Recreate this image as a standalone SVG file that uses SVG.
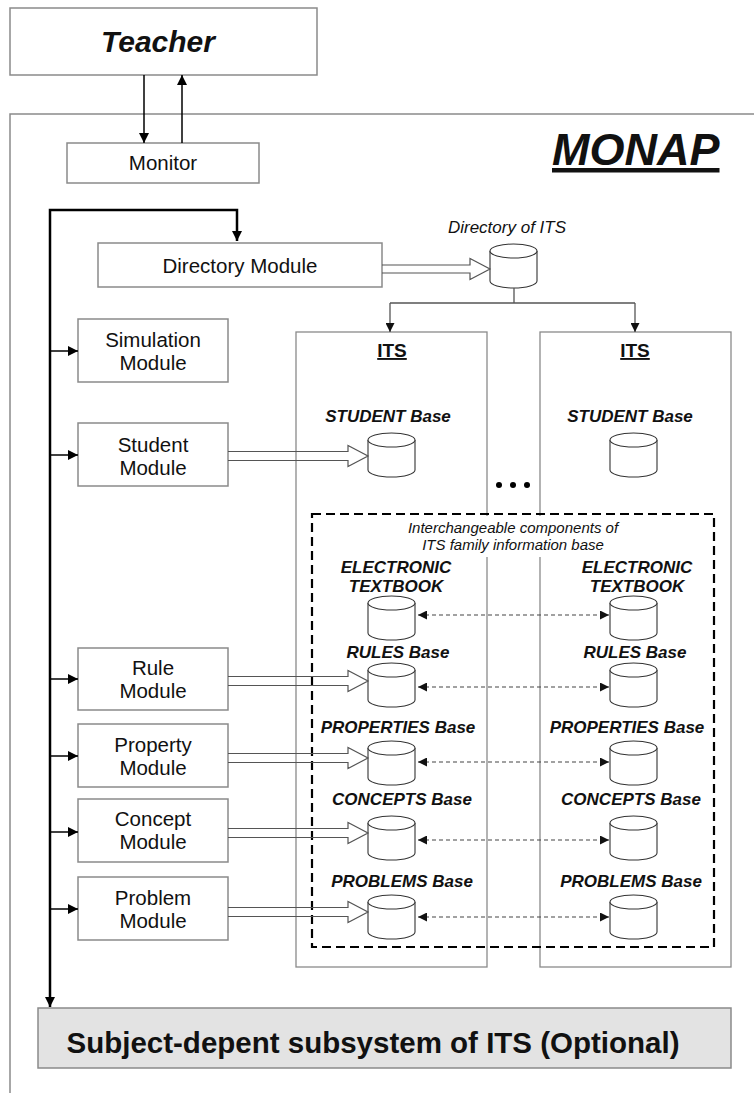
<svg xmlns="http://www.w3.org/2000/svg" width="754" height="1093" viewBox="0 0 754 1093">
<style>
text{font-family:"Liberation Sans",Arial,sans-serif;fill:#111}
.box{fill:#fff;stroke:#8a8a8a;stroke-width:1.5}
.mod{font-size:20.5px;text-anchor:middle}
.base{font-size:17px;font-weight:bold;font-style:italic;text-anchor:middle}
.cyl{fill:#fff;stroke:#333;stroke-width:1.1}
.hollow{fill:none;stroke:#555;stroke-width:1.2}
.bus{fill:none;stroke:#000;stroke-width:2.5}
.thin{fill:none;stroke:#000;stroke-width:1.5}
.dir{fill:none;stroke:#555;stroke-width:1.3}
.dash{fill:none;stroke:#444;stroke-width:1.2;stroke-dasharray:4 3}
</style>
<defs>
<marker id="ah" viewBox="0 0 10 10" refX="10" refY="5" markerWidth="11" markerHeight="10" markerUnits="userSpaceOnUse" orient="auto-start-reverse"><path d="M0,0 L10,5 L0,10 z" fill="#000"/></marker>
<marker id="ahs" viewBox="0 0 10 10" refX="10" refY="5" markerWidth="10" markerHeight="9" markerUnits="userSpaceOnUse" orient="auto-start-reverse"><path d="M0,0 L10,5 L0,10 z" fill="#111"/></marker>
<g id="cylshape"><path d="M0,7 a23.5,7 0 0,1 47,0 v30 a23.5,7 0 0,1 -47,0 z" class="cyl"/><path d="M0,7 a23.5,7 0 0,0 47,0" class="cyl"/></g>
</defs>

<!-- MONAP frame -->
<g id="monap">
<path d="M10,1093 V114 H754" fill="none" stroke="#8a8a8a" stroke-width="1.5"/>
<text x="552" y="165" font-size="45" font-weight="bold" font-style="italic" text-decoration="underline">MONAP</text>
</g>

<g id="teacher">
<rect x="10" y="8" width="307" height="67" class="box"/>
<text x="158" y="52" font-size="30" font-weight="bold" font-style="italic" text-anchor="middle">Teacher</text>
</g>

<g id="monitor">
<rect x="67" y="143" width="192" height="40" class="box"/>
<text x="163" y="170" class="mod">Monitor</text>
</g>

<g id="directory-module">
<rect x="98" y="243" width="284" height="44" class="box"/>
<text x="240" y="273" class="mod">Directory Module</text>
</g>

<g id="directory-of-its">
<text x="507" y="233" font-size="17" font-style="italic" text-anchor="middle">Directory of ITS</text>
<use href="#cylshape" x="490" y="244"/>
</g>

<g id="simulation-module">
<rect x="78" y="319" width="150" height="63" class="box"/>
<text x="153" y="347" class="mod">Simulation</text>
<text x="153" y="370" class="mod">Module</text>
</g>
<g id="student-module">
<rect x="78" y="423" width="150" height="63" class="box"/>
<text x="153" y="452" class="mod">Student</text>
<text x="153" y="475" class="mod">Module</text>
</g>
<g id="rule-module">
<rect x="78" y="648" width="150" height="62" class="box"/>
<text x="153" y="675" class="mod">Rule</text>
<text x="153" y="698" class="mod">Module</text>
</g>
<g id="property-module">
<rect x="78" y="724" width="150" height="63" class="box"/>
<text x="153" y="752" class="mod">Property</text>
<text x="153" y="775" class="mod">Module</text>
</g>
<g id="concept-module">
<rect x="78" y="799" width="150" height="63" class="box"/>
<text x="153" y="826" class="mod">Concept</text>
<text x="153" y="849" class="mod">Module</text>
</g>
<g id="problem-module">
<rect x="78" y="877" width="150" height="63" class="box"/>
<text x="153" y="905" class="mod">Problem</text>
<text x="153" y="928" class="mod">Module</text>
</g>

<g id="its-left">
<rect x="296" y="332" width="191" height="635" fill="none" stroke="#8a8a8a" stroke-width="1.3"/>
<text x="392" y="357" font-size="19" font-weight="bold" text-anchor="middle" text-decoration="underline">ITS</text>
</g>
<g id="its-right">
<rect x="540" y="332" width="191" height="635" fill="none" stroke="#8a8a8a" stroke-width="1.3"/>
<text x="635" y="357" font-size="19" font-weight="bold" text-anchor="middle" text-decoration="underline">ITS</text>
</g>

<g id="ellipsis">
<circle cx="499" cy="485" r="3" fill="#000"/>
<circle cx="513" cy="485" r="3" fill="#000"/>
<circle cx="527" cy="485" r="3" fill="#000"/>
</g>

<g id="interchangeable">
<rect x="312" y="514" width="402" height="433" fill="none" stroke="#000" stroke-width="2.2" stroke-dasharray="9 5"/>
<rect x="400" y="516" width="226" height="41" fill="#fff"/>
<text x="513" y="533" font-size="15" font-style="italic" text-anchor="middle">Interchangeable components of</text>
<text x="513" y="550" font-size="15" font-style="italic" text-anchor="middle">ITS family information base</text>
</g>

<g id="student-base-left">
<text x="388" y="422" class="base">STUDENT Base</text>
<use href="#cylshape" x="368" y="433"/>
</g>
<g id="student-base-right">
<text x="630" y="422" class="base">STUDENT Base</text>
<use href="#cylshape" x="610" y="433"/>
</g>
<g id="textbook-left">
<text x="396" y="573" class="base">ELECTRONIC</text>
<text x="396" y="592" class="base">TEXTBOOK</text>
<use href="#cylshape" x="368" y="596"/>
</g>
<g id="textbook-right">
<text x="637" y="573" class="base">ELECTRONIC</text>
<text x="637" y="592" class="base">TEXTBOOK</text>
<use href="#cylshape" x="610" y="596"/>
</g>
<g id="rules-left">
<text x="398" y="658" class="base">RULES Base</text>
<use href="#cylshape" x="368" y="663"/>
</g>
<g id="rules-right">
<text x="635" y="658" class="base">RULES Base</text>
<use href="#cylshape" x="610" y="663"/>
</g>
<g id="properties-left">
<text x="398" y="733" class="base">PROPERTIES Base</text>
<use href="#cylshape" x="368" y="741"/>
</g>
<g id="properties-right">
<text x="627" y="733" class="base">PROPERTIES Base</text>
<use href="#cylshape" x="610" y="741"/>
</g>
<g id="concepts-left">
<text x="402" y="805" class="base">CONCEPTS Base</text>
<use href="#cylshape" x="368" y="816"/>
</g>
<g id="concepts-right">
<text x="631" y="805" class="base">CONCEPTS Base</text>
<use href="#cylshape" x="610" y="816"/>
</g>
<g id="problems-left">
<text x="402" y="887" class="base">PROBLEMS Base</text>
<use href="#cylshape" x="368" y="895"/>
</g>
<g id="problems-right">
<text x="631" y="887" class="base">PROBLEMS Base</text>
<use href="#cylshape" x="610" y="895"/>
</g>

<g id="subject-subsystem">
<rect x="38" y="1008" width="693" height="60" fill="#e3e3e3" stroke="#8a8a8a" stroke-width="1.5"/>
<text x="373" y="1053" font-size="29.5" font-weight="bold" text-anchor="middle">Subject-depent subsystem of ITS (Optional)</text>
</g>

<g id="connectors">
<line x1="144" y1="75" x2="144" y2="143" class="thin" marker-end="url(#ah)"/>
<line x1="182" y1="143" x2="182" y2="75" class="thin" marker-end="url(#ah)"/>
<path d="M237,241 V210 H50 V1007" class="bus" marker-start="url(#ah)" marker-end="url(#ah)"/>
<line x1="50" y1="351" x2="78" y2="351" class="thin" stroke-width="2" marker-end="url(#ah)"/>
<line x1="50" y1="455" x2="78" y2="455" class="thin" stroke-width="2" marker-end="url(#ah)"/>
<line x1="50" y1="679" x2="78" y2="679" class="thin" stroke-width="2" marker-end="url(#ah)"/>
<line x1="50" y1="756" x2="78" y2="756" class="thin" stroke-width="2" marker-end="url(#ah)"/>
<line x1="50" y1="832" x2="78" y2="832" class="thin" stroke-width="2" marker-end="url(#ah)"/>
<line x1="50" y1="909" x2="78" y2="909" class="thin" stroke-width="2" marker-end="url(#ah)"/>
<path d="M382,265 H470 V258.5 L490,269 L470,279.5 V273 H382" class="hollow"/>
<path d="M228,451.5 H348 V445.5 L368,456 L348,466.5 V460.5 H228" class="hollow"/>
<path d="M228,676.5 H348 V670.5 L368,681 L348,691.5 V685.5 H228" class="hollow"/>
<path d="M228,753.5 H348 V747.5 L368,758 L348,768.5 V762.5 H228" class="hollow"/>
<path d="M228,828.5 H348 V822.5 L368,833 L348,843.5 V837.5 H228" class="hollow"/>
<path d="M228,907.5 H348 V901.5 L368,912 L348,922.5 V916.5 H228" class="hollow"/>
<path d="M514,288 V303 M390,303 H635" class="dir"/>
<line x1="390" y1="303" x2="390" y2="332" class="dir" marker-end="url(#ahs)"/>
<line x1="635" y1="303" x2="635" y2="332" class="dir" marker-end="url(#ahs)"/>
<line x1="418" y1="615" x2="609" y2="615" class="dash" marker-start="url(#ahs)" marker-end="url(#ahs)"/>
<line x1="418" y1="687" x2="609" y2="687" class="dash" marker-start="url(#ahs)" marker-end="url(#ahs)"/>
<line x1="418" y1="762" x2="609" y2="762" class="dash" marker-start="url(#ahs)" marker-end="url(#ahs)"/>
<line x1="418" y1="840" x2="609" y2="840" class="dash" marker-start="url(#ahs)" marker-end="url(#ahs)"/>
<line x1="418" y1="917" x2="609" y2="917" class="dash" marker-start="url(#ahs)" marker-end="url(#ahs)"/>
</g>
</svg>
